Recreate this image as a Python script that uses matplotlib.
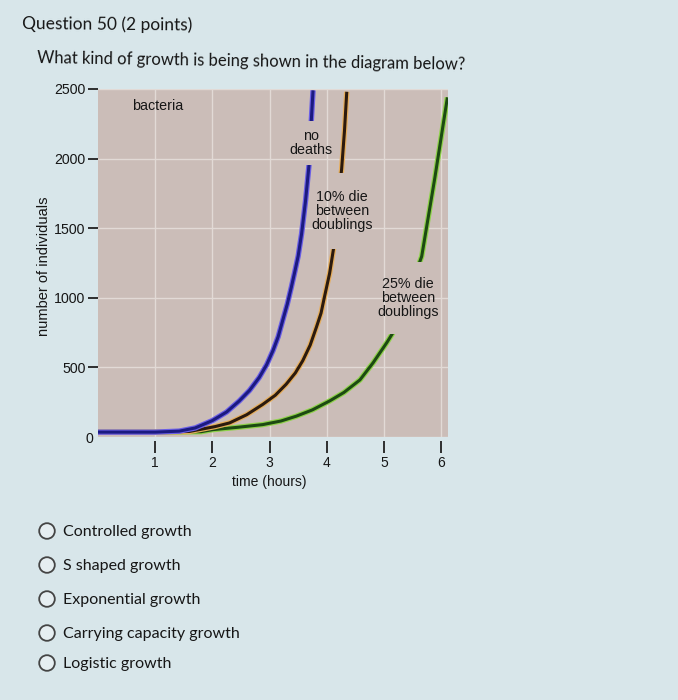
import matplotlib
matplotlib.use("Agg")
import matplotlib.pyplot as plt
import matplotlib.patheffects as pe
from matplotlib.path import Path
from matplotlib.patches import Circle
from matplotlib.transforms import IdentityTransform, ScaledTranslation

# ---------------- data ----------------
time_ticks = [1, 2, 3, 4, 5, 6]
count_ticks = [0, 500, 1000, 1500, 2000, 2500]

no_deaths_t = [0.0, 0.5, 1.0, 1.42, 1.7, 2.0, 2.25, 2.47, 2.65, 2.82, 2.95, 3.06,
               3.15, 3.23, 3.31, 3.38, 3.44, 3.50, 3.56, 3.63, 3.70, 3.73, 3.76]
no_deaths_n = [35, 35, 35, 42, 65, 118, 180, 259, 335, 428, 520, 621,
               720, 838, 955, 1075, 1185, 1300, 1460, 1700, 1998, 2275, 2490]

die10_t = [0.0, 1.0, 1.6, 1.77, 2.05, 2.30, 2.6, 2.88, 3.1, 3.29, 3.45, 3.58,
           3.71, 3.82, 3.90, 3.96, 4.05, 4.12, 4.26, 4.31, 4.35]
die10_n = [35, 35, 40, 53, 75, 101, 160, 234, 300, 379, 460, 548,
           660, 790, 890, 1007, 1176, 1357, 1925, 2200, 2480]

die25_t = [0.0, 1.0, 1.8, 2.01, 2.45, 2.88, 3.2, 3.47, 3.75, 4.05, 4.30, 4.58,
           4.81, 5.05, 5.21, 5.66, 5.89, 6.11]
die25_n = [35, 35, 38, 53, 70, 89, 115, 150, 195, 259, 320, 410,
           533, 678, 784, 1297, 1862, 2440]

options = ["Controlled growth", "S shaped growth", "Exponential growth",
           "Carrying capacity growth", "Logistic growth"]

# ---------------- styles ----------------
page_bg = "#d8e6ea"
plot_bg = "#cbbdb8"
grid_c = "#e2dad6"
ink = "#161616"
chart_font = "Liberation Sans"
ui_font = "Lato"

W, H = 678, 700
fig = plt.figure(figsize=(W / 100, H / 100), dpi=100, facecolor=page_bg)

ax_left, ax_right, ax_top, ax_bot = 98, 448, 89, 437
ax = fig.add_axes([ax_left / W, 1 - ax_bot / H, (ax_right - ax_left) / W, (ax_bot - ax_top) / H])
ax.set_facecolor(plot_bg)
ax.set_xlim(0, 6.12)
ax.set_ylim(0, 2500)
for s in ax.spines.values():
    s.set_visible(False)
ax.spines["bottom"].set_position(("outward", 3))

ax.set_xticks(time_ticks)
ax.set_xticklabels([str(t) for t in time_ticks], fontfamily=chart_font)
ax.set_yticks(count_ticks)
ax.set_yticklabels([str(c) for c in count_ticks], fontfamily=chart_font)
ax.tick_params(axis="x", direction="out", length=8.5, width=1.4, color="#2e2e2e",
               pad=2, labelsize=10, labelcolor=ink)
ax.tick_params(axis="y", direction="out", length=7, width=1.4, color="#2e2e2e",
               pad=2, labelsize=10.2, labelcolor=ink)
zero_tick = ax.yaxis.get_major_ticks()[0]
zero_tick.tick1line.set_visible(False)
zero_tick.label1.set_transform(zero_tick.label1.get_transform()
                               + ScaledTranslation(8 / 100, 0, fig.dpi_scale_trans))
ax.set_axisbelow(True)
ax.grid(True, color=grid_c, lw=1.0)

ax.set_xlabel("time (hours)", fontfamily=chart_font, fontsize=10, color=ink)
ax.xaxis.set_label_coords(0.49, -0.11)
ax.set_ylabel("number of individuals", fontfamily=chart_font, fontsize=10.5, color=ink)
ax.yaxis.set_label_coords(-0.135, 0.49)

def curve(t, n, core, halo):
    ln, = ax.plot(t, n, color=core, lw=2.2, solid_capstyle="butt", solid_joinstyle="round",
                  zorder=3,
                  path_effects=[pe.Stroke(linewidth=3.9, foreground=halo), pe.Normal()])
    return ln

l25 = curve(die25_t, die25_n, "#1c4a12", "#8fd24a")
l10 = curve(die10_t, die10_n, "#2b1a0e", "#e6ad5a")
l0 = curve(no_deaths_t, no_deaths_n, "#1b1a80", "#6a5ee6")

lab_kw = dict(ha="center", va="center", fontsize=10.3, fontfamily=chart_font,
              color=ink, linespacing=1.0, zorder=5)
ax.text(1.04, 2375, "bacteria", **lab_kw)
t0 = ax.text(3.72, 2110, "no\ndeaths", **lab_kw)
t10 = ax.text(4.27, 1620, "10% die\nbetween\ndoublings", **lab_kw)
t25 = ax.text(5.42, 1000, "25% die\nbetween\ndoublings", **lab_kw)

# ---------------- question text ----------------
fig.text(22 / W, 1 - 24 / H, "Question 50 (2 points)", va="center", ha="left",
         fontsize=12.5, fontfamily=ui_font, color=ink, rotation=-0.5, rotation_mode="anchor")
fig.text(37 / W, 1 - 58 / H, "What kind of growth is being shown in the diagram below?",
         va="center", ha="left", fontsize=12, fontfamily=ui_font, color=ink,
         rotation=-0.9, rotation_mode="anchor")

opt_y = [531, 565, 599, 633, 663]
for label, y in zip(options, opt_y):
    fig.add_artist(Circle((47 / 100, (H - y) / 100), 0.078, transform=fig.dpi_scale_trans,
                          facecolor="#e6eef1", edgecolor="#444444", lw=1.3))
    fig.text(63 / W, 1 - (y + 1) / H, label, va="center", ha="left",
             fontsize=11.5, fontfamily=ui_font, color=ink)

# ---------------- gaps in the curves behind labels ----------------
fig.canvas.draw()
renderer = fig.canvas.get_renderer()
axbb = ax.get_window_extent(renderer)

def hole_path(text, padx, pady):
    bb = text.get_window_extent(renderer)
    x0, y0, x1, y1 = bb.x0 - padx, bb.y0 - pady, bb.x1 + padx, bb.y1 + pady
    outer = [(axbb.x0, axbb.y0), (axbb.x1, axbb.y0), (axbb.x1, axbb.y1), (axbb.x0, axbb.y1), (axbb.x0, axbb.y0)]
    inner = [(x0, y0), (x0, y1), (x1, y1), (x1, y0), (x0, y0)]
    codes = [Path.MOVETO, Path.LINETO, Path.LINETO, Path.LINETO, Path.CLOSEPOLY] * 2
    return Path(outer + inner, codes)

l0.set_clip_path(hole_path(t0, 2, 8), IdentityTransform())
l10.set_clip_path(hole_path(t10, 2, 17), IdentityTransform())
l25.set_clip_path(hole_path(t25, 2, 15), IdentityTransform())

fig.savefig("out.png", dpi=100, facecolor=page_bg)
